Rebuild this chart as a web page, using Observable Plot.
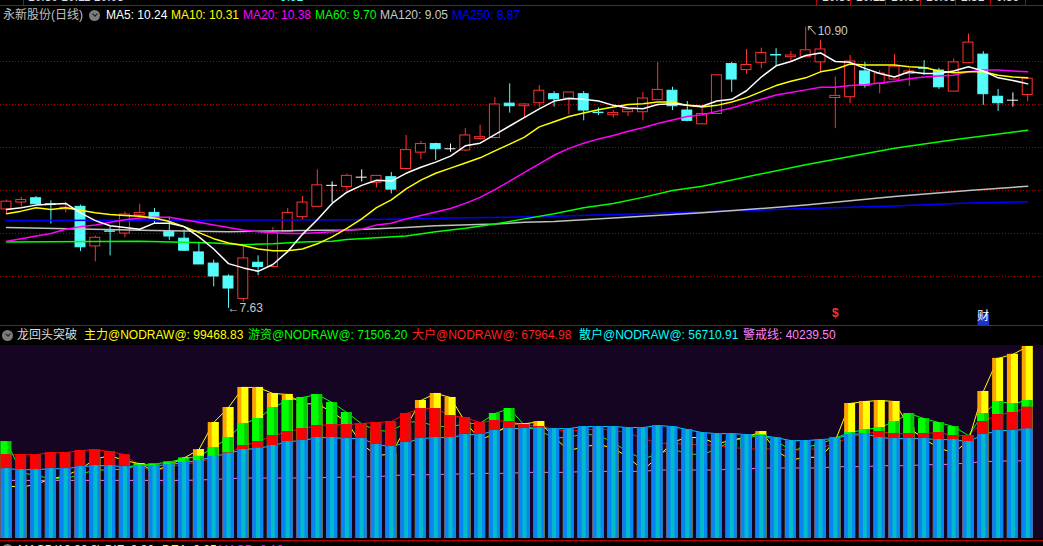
<!DOCTYPE html>
<html lang="zh">
<head>
<meta charset="UTF-8">
<title>永新股份(日线)</title>
<script src="https://cdn.jsdelivr.net/npm/d3@7"></script>
<script src="https://cdn.jsdelivr.net/npm/@observablehq/plot@0.6"></script>
<style>
  body { margin: 0; background: #000; width: 1043px; height: 546px; overflow: hidden; position: relative;
         font-family: "Liberation Sans", "Noto Sans CJK SC", sans-serif; font-size: 12px; }
  .row { position: absolute; left: 0; width: 1043px; height: 16px; line-height: 16px; white-space: nowrap; }
  .row span { position: absolute; top: 0; }
  .btn { position: absolute; width: 11px; height: 11px; border-radius: 50%; background: #7c7c7c; }
  .btn::after { content: ""; position: absolute; left: 3.5px; top: 2px; width: 3px; height: 3px;
                border-right: 1.5px solid #1a1a1a; border-bottom: 1.5px solid #1a1a1a; transform: rotate(45deg); }
  .hline { position: absolute; left: 0; width: 1043px; height: 1px; background: #c00000; }
  .vline { position: absolute; top: 0; width: 1px; height: 5px; background: #c00000; }
  #strip { position: absolute; top: 0; left: 0; width: 1043px; height: 5px; overflow: hidden; }
  #strip span { position: absolute; top: -10px; color: #e0e0e0; }
  #top, #bottom { position: absolute; left: 0; }
  #top { top: 21px; }
  #bottom { top: 345px; }
</style>
</head>
<body>

<div id="strip">
  <span style="left:28px">10.30 10.11 10.03</span>
  <span style="left:280px;color:#54fcfc">9.92</span>
  <span style="left:822px">10.30</span>
  <span style="left:856px">10.11</span>
  <span style="left:891px">10.30</span>
  <span style="left:926px">10.03</span>
  <span style="left:961px">2.51</span>
  <span style="left:996px">0.39</span>
</div>
<div class="hline" style="top:5px"></div>
<div class="vline" style="left:23px"></div>
<div class="vline" style="left:816px"></div>
<div class="vline" style="left:850px"></div>
<div class="vline" style="left:885px"></div>
<div class="vline" style="left:920px"></div>
<div class="vline" style="left:955px"></div>
<div class="vline" style="left:990px"></div>
<div class="vline" style="left:1025px"></div>

<div class="row" style="top:7px">
  <span style="left:3px;color:#c0c0c0">永新股份(日线)</span>
  <div class="btn" style="left:89px;top:3px"></div>
  <span style="left:106px;color:#ffffff">MA5: 10.24</span>
  <span style="left:171px;color:#ffff00">MA10: 10.31</span>
  <span style="left:243px;color:#ff00ff">MA20: 10.38</span>
  <span style="left:315px;color:#00ff00">MA60: 9.70</span>
  <span style="left:380px;color:#c8c8c8">MA120: 9.05</span>
  <span style="left:452px;color:#0000ff">MA250: 8.87</span>
</div>

<div id="top"></div>
<div class="hline" style="top:325px"></div>

<div class="row" style="top:327px">
  <div class="btn" style="left:2px;top:3px"></div>
  <span style="left:17px;color:#dcdcdc">龙回头突破</span>
  <span style="left:84px;color:#ffff00">主力@NODRAW@: 99468.83</span>
  <span style="left:248px;color:#00ff00">游资@NODRAW@: 71506.20</span>
  <span style="left:412px;color:#ff2020">大户@NODRAW@: 67964.98</span>
  <span style="left:579px;color:#00ffff">散户@NODRAW@: 56710.91</span>
  <span style="left:743px;color:#ff80ff">警戒线: 40239.50</span>
</div>

<div id="bottom"></div>
<div class="hline" style="top:540px"></div>

<div class="row" style="top:542px">
  <div class="btn" style="left:2px;top:2px"></div>
  <span style="left:18px;color:#e0e0e0">MACD(12,26,9) DIF: 0.30</span>
  <span style="left:162px;color:#ffff00">DEA: 0.25</span>
  <span style="left:218px;color:#ff00ff">MACD: 0.10</span>
</div>

<script>
// 日K线
const open  = [8.78, 8.86, 8.91, 8.84, 8.78, 8.81, 8.35, 8.525, 8.50, 8.71,
               8.74, 8.52, 8.44, 8.28, 8.15, 8.00, 7.74, 8.16, 8.11, 8.515,
               8.69, 8.81, 9.06, 9.04, 9.155, 9.09, 9.155, 9.25, 9.44, 9.54,
               9.485, 9.465, 9.60, 9.61, 10.01, 9.98, 10.015, 10.12, 10.07, 10.12,
               9.905, 9.875, 9.91, 9.91, 10.05, 10.16, 9.93, 9.77, 9.89, 10.47,
               10.40, 10.485, 10.575, 10.55, 10.55, 10.49, 10.075, 10.085, 10.385, 10.24,
               10.29, 10.355, 10.42, 10.395, 10.15, 10.48, 10.58, 10.09, 10.05, 10.11];
const high  = [8.89, 8.92, 8.93, 8.88, 8.86, 8.83, 8.47, 8.58, 8.75, 8.84,
               8.79, 8.69, 8.54, 8.40, 8.19, 8.02, 8.35, 8.24, 8.57, 8.79,
               8.93, 9.24, 9.10, 9.19, 9.24, 9.17, 9.21, 9.64, 9.57, 9.55,
               9.54, 9.72, 9.76, 10.08, 10.24, 10.01, 10.22, 10.15, 10.14, 10.15,
               9.96, 9.93, 9.94, 10.14, 10.49, 10.20, 10.035, 9.96, 10.34, 10.49,
               10.64, 10.655, 10.65, 10.615, 10.90, 10.745, 10.32, 10.57, 10.49, 10.395,
               10.58, 10.415, 10.51, 10.42, 10.53, 10.82, 10.615, 10.175, 10.135, 10.30];
const low   = [8.73, 8.81, 8.83, 8.61, 8.74, 8.29, 8.17, 8.24, 8.45, 8.67,
               8.61, 8.42, 8.29, 8.14, 7.88, 7.63, 7.70, 8.01, 8.11, 8.515,
               8.65, 8.81, 8.86, 8.99, 9.10, 9.03, 8.96, 9.25, 9.36, 9.35,
               9.445, 9.45, 9.58, 9.61, 9.90, 9.845, 9.96, 9.97, 9.88, 9.81,
               9.87, 9.84, 9.86, 9.81, 10.05, 9.93, 9.80, 9.77, 9.89, 10.14,
               10.35, 10.415, 10.45, 10.50, 10.55, 10.375, 9.72, 10.01, 10.19, 10.125,
               10.29, 10.21, 10.34, 10.175, 10.15, 10.48, 9.99, 9.92, 9.97, 10.03];
const close = [8.87, 8.89, 8.84, 8.835, 8.80, 8.34, 8.45, 8.52, 8.72, 8.74,
               8.67, 8.465, 8.30, 8.14, 8.00, 7.86, 8.21, 8.11, 8.51, 8.74,
               8.86, 9.06, 9.06, 9.17, 9.155, 9.17, 9.01, 9.47, 9.54, 9.48,
               9.485, 9.64, 9.62, 10.00, 9.98, 10.00, 10.16, 10.06, 10.14, 9.93,
               9.90, 9.90, 9.94, 10.07, 10.17, 9.98, 9.81, 9.89, 10.34, 10.29,
               10.46, 10.60, 10.57, 10.57, 10.63, 10.64, 10.10, 10.50, 10.22, 10.36,
               10.44, 10.385, 10.415, 10.20, 10.49, 10.72, 10.12, 10.015, 10.05, 10.30];

// 均线
const ma5  = [8.78, 8.80, 8.83, 8.84, 8.85, 8.74, 8.65, 8.59, 8.57, 8.55,
              8.62, 8.62, 8.58, 8.46, 8.32, 8.15, 8.10, 8.06, 8.14, 8.29,
              8.49, 8.66, 8.85, 8.98, 9.06, 9.12, 9.11, 9.20, 9.27, 9.33,
              9.40, 9.52, 9.55, 9.65, 9.75, 9.85, 9.95, 10.04, 10.07, 10.06,
              10.04, 9.99, 9.96, 9.95, 10.00, 10.01, 9.99, 9.98, 10.04, 10.06,
              10.16, 10.32, 10.45, 10.50, 10.57, 10.60, 10.50, 10.49, 10.42, 10.36,
              10.32, 10.38, 10.36, 10.36, 10.39, 10.44, 10.39, 10.31, 10.28, 10.24];
const ma10 = [8.73, 8.76, 8.80, 8.78, 8.80, 8.77, 8.74, 8.72, 8.71, 8.70,
              8.68, 8.64, 8.58, 8.51, 8.44, 8.39, 8.36, 8.32, 8.30, 8.30,
              8.32, 8.38, 8.46, 8.56, 8.67, 8.80, 8.89, 9.02, 9.12, 9.20,
              9.26, 9.32, 9.38, 9.46, 9.54, 9.62, 9.74, 9.80, 9.86, 9.90,
              9.94, 9.97, 10.00, 10.01, 10.03, 10.03, 9.99, 9.97, 9.99, 10.03,
              10.08, 10.15, 10.22, 10.27, 10.31, 10.38, 10.41, 10.47, 10.46, 10.46,
              10.46, 10.44, 10.43, 10.39, 10.37, 10.38, 10.38, 10.34, 10.32, 10.31];
const ma20 = [8.41, 8.44, 8.47, 8.50, 8.55, 8.58, 8.60, 8.63, 8.66, 8.68,
              8.69, 8.69, 8.66, 8.63, 8.60, 8.57, 8.54, 8.52, 8.51, 8.50,
              8.50, 8.51, 8.52, 8.54, 8.55, 8.60, 8.62, 8.67, 8.71, 8.75,
              8.79, 8.85, 8.92, 9.01, 9.11, 9.21, 9.31, 9.41, 9.49, 9.55,
              9.60, 9.64, 9.69, 9.73, 9.78, 9.82, 9.86, 9.88, 9.92, 9.96,
              10.01, 10.06, 10.11, 10.14, 10.17, 10.20, 10.20, 10.22, 10.23, 10.25,
              10.27, 10.30, 10.32, 10.33, 10.34, 10.38, 10.40, 10.40, 10.39, 10.38];
const ma60Idx  = [0, 9, 14, 16, 18, 20, 22, 23, 25, 27, 29, 31, 33, 35, 37, 39, 41, 43, 45, 47, 54, 60, 64, 69];
const ma60     = [8.40, 8.41, 8.39, 8.37, 8.38, 8.40, 8.41, 8.43, 8.45, 8.47, 8.52, 8.56, 8.61, 8.67, 8.73, 8.80, 8.85, 8.92, 9.00, 9.05, 9.30, 9.49, 9.59, 9.70];
const ma120Idx = [0, 10, 15, 20, 23, 27, 29, 33, 35, 37, 39, 41, 43, 45, 47, 54, 60, 65, 69];
const ma120    = [8.57, 8.535, 8.52, 8.535, 8.54, 8.57, 8.59, 8.61, 8.63, 8.64, 8.66, 8.68, 8.70, 8.72, 8.74, 8.83, 8.93, 9.00, 9.05];
const ma250Idx = [0, 23, 27, 30, 34, 37, 41, 43, 45, 54, 60, 65, 69];
const ma250    = [8.65, 8.66, 8.67, 8.68, 8.69, 8.70, 8.72, 8.73, 8.74, 8.79, 8.82, 8.855, 8.87];

const priceGrid = [8, 8.5, 9, 9.5, 10, 10.5];
const eventIdx  = [56, 66];
const eventText = ["$", "财"];

// 龙回头突破
const zhuli = [27330, 26470, 28200, 30800, 32530, 35990, 41190, 42920, 40320, 38760,
               34780, 38240, 41710, 46040, 60070, 67860, 78250, 78250, 75130, 74620,
               69770, 69770, 65440, 60240, 48980, 42920, 43790, 57640, 71500, 75130,
               73060, 60240, 51230, 54180, 59370, 59370, 60590, 52450, 45520, 47600,
               48640, 46900, 42050, 35470, 42050, 49850, 52450, 52100, 48980, 51060,
               52450, 55390, 45520, 40670, 42050, 42050, 50710, 69940, 70980, 71500,
               70980, 57300, 51580, 46900, 44310, 50710, 76170, 93320, 95400, 99468.83];
const youzi = [50190, 34260, 32530, 31140, 30800, 33390, 35470, 35470, 35990, 38240,
               38590, 39630, 41360, 42570, 47080, 52270, 59550, 62140, 67860, 71500,
               73060, 74620, 70460, 65260, 59400, 55910, 55560, 60240, 60590, 57990,
               57990, 59370, 59720, 64740, 67340, 58510, 55910, 52100, 52450, 54180,
               53310, 49850, 44650, 41190, 43790, 46380, 43790, 43440, 46380, 50710,
               52100, 53660, 50710, 45520, 47250, 48980, 52100, 54870, 56430, 57470,
               60590, 64740, 62140, 60070, 57990, 53310, 64740, 70980, 69940, 71506.20];
const dahu  = [43440, 43440, 43440, 44480, 44480, 45520, 46040, 45000, 43440, 37200,
               34780, 37200, 38590, 39460, 42050, 44310, 48120, 50190, 53310, 55390,
               56950, 58510, 59030, 59030, 59550, 60070, 60590, 64740, 67340, 67340,
               63700, 62660, 60070, 61110, 60590, 59030, 57990, 56430, 55560, 56260,
               56780, 56260, 54520, 51930, 49330, 49330, 48640, 48640, 48120, 47250,
               46380, 46380, 46380, 45860, 45860, 46900, 49330, 52450, 54180, 55390,
               54350, 54350, 54350, 54870, 53310, 53310, 60590, 64220, 65260, 67964.98];
const sanhu = [36160, 35650, 35650, 36160, 36160, 37200, 37720, 37720, 37200, 37720,
               37720, 38240, 39460, 40320, 42570, 44130, 46040, 46730, 48120, 50190,
               50710, 52270, 52270, 51750, 51750, 48640, 47600, 49670, 51750, 52270,
               52270, 53830, 53830, 55910, 56950, 56950, 57300, 56950, 56950, 57990,
               57990, 57990, 57470, 57470, 58510, 57990, 56430, 54870, 54350, 54350,
               53830, 53310, 52270, 50710, 50710, 51230, 51750, 53830, 54350, 52270,
               51750, 51750, 51750, 51230, 51230, 50190, 53830, 55910, 55910, 56710.91];
const jingjie = [30100, 30100, 30100, 30100, 30100, 30100, 30100, 30100, 30100, 30100,
                 30100, 30100, 30100, 30280, 30620, 30970, 31320, 31320, 31320, 31320,
                 31320, 31490, 31660, 31830, 32010, 32010, 32530, 33050, 33050, 33050,
                 33390, 33390, 33740, 33740, 33740, 34260, 34260, 34260, 34260, 34780,
                 34780, 34780, 34780, 34780, 35470, 35470, 35470, 35470, 35470, 35990,
                 35990, 36510, 36510, 36510, 36510, 36510, 37200, 37200, 37200, 37720,
                 37720, 37720, 38240, 38240, 38590, 39110, 39800, 40100, 40200, 40239.50];

const days = d3.range(open.length);
const UP = "#ff3232", DOWN = "#54fcfc", FLAT = "#ffffff";
const kColor = d => close[d] > open[d] ? UP : close[d] < open[d] ? DOWN : FLAT;
const font = "Liberation Sans, Noto Sans CJK SC, sans-serif";

const xBand = {type: "band", domain: days, range: [-1.4, 1034.6], paddingInner: 0.26, paddingOuter: 0.13, axis: null};

const lowest = d3.minIndex(low), highest = d3.maxIndex(high);

const topChart = Plot.plot({
  width: 1043,
  height: 305,
  margin: 0,
  style: {background: "transparent", fontFamily: font},
  x: xBand,
  y: {domain: [7.5, 11], range: [298, -3], axis: null},
  marks: [
    Plot.ruleY(priceGrid, {stroke: "#b00000", strokeDasharray: "1,2"}),
    // 影线
    Plot.ruleX(days, {x: d => d, y1: d => low[d], y2: d => high[d], stroke: kColor}),
    // 实体
    Plot.barY(days.filter(d => close[d] !== open[d]), {
      x: d => d, y1: d => open[d], y2: d => close[d],
      fill: d => close[d] > open[d] ? "#000000" : DOWN,
      stroke: kColor, insetLeft: 0.5, insetRight: 0.5
    }),
    // 十字星
    Plot.tickY(days.filter(d => close[d] === open[d]), {x: d => d, y: d => close[d], stroke: FLAT}),
    // 均线
    Plot.line(ma250Idx, {x: d => d, y: (d, k) => ma250[k], stroke: "#0000ff"}),
    Plot.line(ma120Idx, {x: d => d, y: (d, k) => ma120[k], stroke: "#c0c0c0"}),
    Plot.line(ma60Idx, {x: d => d, y: (d, k) => ma60[k], stroke: "#00ff00"}),
    Plot.line(days, {x: d => d, y: d => ma20[d], stroke: "#ff00ff"}),
    Plot.line(days, {x: d => d, y: d => ma10[d], stroke: "#ffff00"}),
    Plot.line(days, {x: d => d, y: d => ma5[d], stroke: "#ffffff"}),
    // 最高最低标记
    Plot.text([lowest], {x: d => d, y: d => low[d], text: d => "←" + low[d].toFixed(2),
      textAnchor: "start", dx: -1, fill: "#c8c8c8", fontSize: 12}),
    Plot.text([highest], {x: d => d, y: d => high[d], text: d => "↖" + high[d].toFixed(2),
      textAnchor: "start", dx: 0, dy: 4, fill: "#c8c8c8", fontSize: 12}),
    // 事件标记
    Plot.text(eventIdx.slice(0, 1), {x: d => d, frameAnchor: "bottom", dy: -10,
      text: (d, k) => eventText[k], fill: "#ff3232", fontSize: 12, fontWeight: "bold"}),
    Plot.dot(eventIdx.slice(1), {x: d => d, frameAnchor: "bottom", dy: -7,
      symbol: "square", r: 6.5, fill: "#1c34c8"}),
    Plot.text(eventIdx.slice(1), {x: d => d, frameAnchor: "bottom", dy: -7,
      text: (d, k) => eventText[k + 1], fill: "#ffffff", fontSize: 12})
  ]
});
document.getElementById("top").appendChild(topChart);

const bar = (vals, fill, opts = {}) =>
  Plot.barY(days, {x: d => d, y1: 0, y2: d => vals[d], fill, ...opts});
const line = (vals, stroke) =>
  Plot.line(days, {x: d => d, y: d => vals[d], stroke, strokeWidth: 1});

const bottomChart = Plot.plot({
  width: 1043,
  height: 193,
  margin: 0,
  style: {background: "#150522", fontFamily: font},
  x: xBand,
  y: {domain: [0, d3.max(zhuli)], range: [193, 1], axis: null},
  marks: [
    line(jingjie, "#ff66ff"),
    line(sanhu, "#00d0ff"),
    line(dahu, "#ff0000"),
    line(youzi, "#00ff00"),
    line(zhuli, "#ffff00"),
    bar(zhuli, "#ffa500"),
    bar(zhuli, "#ffff00", {insetLeft: 4}),
    bar(youzi, "#00cc00"),
    bar(youzi, "#00ff00", {insetRight: 4}),
    bar(dahu, "#c81818"),
    bar(dahu, "#ff0000", {insetRight: 3}),
    bar(sanhu, "#0a84f5"),
    bar(sanhu, "#00bcc8", {insetLeft: 4, insetRight: 3})
  ]
});
document.getElementById("bottom").appendChild(bottomChart);
</script>
</body>
</html>
